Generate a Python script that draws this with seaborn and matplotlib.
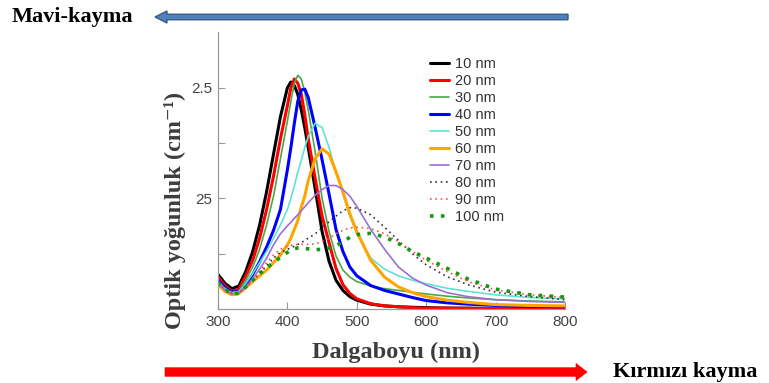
import matplotlib
matplotlib.use("Agg")
import matplotlib.pyplot as plt
import seaborn as sns
from matplotlib.patches import FancyArrow

# Wavelength grid (nm) and optical density
wavelength = [300, 310, 320, 330, 340, 350, 360, 370, 380, 390, 400, 405, 410, 415,
              420, 425, 430, 440, 450, 460, 470, 480, 490, 500, 520, 540, 560, 580,
              600, 630, 660, 700, 750, 800]

od_10 = [.078, .058, .046, .052, .085, .13, .19, .265, .35, .435, .50, .513, .505, .485,
         .45, .41, .365, .272, .175, .108, .065, .042, .028, .02, .011, .007, .005, .004,
         .003, .002, .002, .001, .001, .001]
od_20 = [.072, .052, .040, .045, .075, .11, .16, .225, .30, .385, .46, .50, .52, .51,
         .485, .44, .385, .295, .21, .15, .092, .055, .035, .023, .012, .007, .005, .003,
         .002, .002, .001, .001, .001, .001]
od_30 = [.065, .048, .038, .042, .065, .095, .135, .19, .255, .34, .425, .47, .51, .528,
         .52, .49, .45, .355, .25, .175, .12, .088, .072, .062, .052, .046, .042, .038,
         .034, .029, .025, .021, .018, .016]
od_40 = [.065, .048, .038, .040, .055, .078, .107, .14, .178, .225, .315, .365, .42, .47,
         .495, .497, .478, .41, .337, .26, .18, .13, .095, .075, .053, .042, .034, .026,
         .019, .014, .011, .008, .006, .005]
od_50 = [.062, .046, .037, .040, .058, .08, .105, .13, .16, .19, .225, .25, .278, .31,
         .335, .365, .39, .42, .41, .365, .31, .26, .21, .17, .115, .09, .075, .065,
         .057, .047, .04, .032, .026, .023]
od_60 = [.055, .040, .032, .035, .048, .062, .075, .088, .105, .122, .145, .16, .18, .20,
         .23, .255, .29, .34, .362, .35, .31, .265, .215, .175, .11, .072, .05, .037,
         .028, .02, .015, .01, .008, .007]
od_70 = [.058, .043, .034, .036, .05, .068, .09, .115, .145, .17, .188, .196, .205, .213,
         .222, .231, .24, .257, .27, .279, .279, .27, .255, .232, .18, .135, .095, .07,
         .054, .037, .028, .021, .017, .015]
od_80 = [.06, .045, .035, .038, .05, .065, .08, .098, .115, .128, .135, .138, .142, .146,
         .15, .155, .16, .17, .183, .197, .21, .222, .229, .228, .213, .185, .155, .125,
         .10, .073, .055, .038, .028, .021]
od_90 = [.06, .045, .035, .038, .05, .065, .085, .105, .122, .135, .142, .144, .145, .146,
         .146, .146, .146, .147, .152, .16, .17, .178, .183, .185, .182, .17, .152, .13,
         .11, .085, .062, .043, .032, .026]
od_100 = [.06, .045, .033, .036, .05, .065, .08, .093, .105, .117, .128, .133, .136, .138,
          .138, .137, .136, .134, .135, .138, .143, .152, .162, .168, .171, .163, .148, .13,
          .115, .092, .068, .045, .032, .027]

labels = ["10 nm", "20 nm", "30 nm", "40 nm", "50 nm", "60 nm", "70 nm", "80 nm", "90 nm", "100 nm"]
series = [od_10, od_20, od_30, od_40, od_50, od_60, od_70, od_80, od_90, od_100]

colors = ["black", "#ff0000", "#4aa84a", "#0000ff", "#5fe3d3", "#ffa500", "#9b6fd6",
          "#333333", "#ff5050", "#119a11"]
widths = [2.2, 2.2, 1.2, 2.2, 1.2, 2.2, 1.2, 1.2, 1.2, 2.6]
styles = ["-", "-", "-", "-", "-", "-", "-", (0, (1, 2.2)), (0, (1, 2.2)), (0, (1, 2))]

sns.set_style("white")
plt.rcParams["font.family"] = ["Liberation Sans", "DejaVu Sans"]

fig = plt.figure(figsize=(7.69, 3.83), dpi=100)
ax = fig.add_axes([0.2835, 0.1932, 0.4512, 0.7232])

for y, lab, c, lw, ls in zip(series, labels, colors, widths, styles):
    sns.lineplot(x=wavelength, y=y, ax=ax, color=c, linewidth=lw,
                 linestyle=ls, label=lab)

ax.set_xlim(300, 800)
ax.set_ylim(0, 0.626)
ax.set_xticks([300, 400, 500, 600, 700, 800])
ax.set_yticks([0.125, 0.25, 0.375, 0.5])
ax.set_yticklabels(["", "25", "", "2.5"])
ax.tick_params(direction="in", length=5, width=0.8, color="#999999",
               labelsize=11, labelcolor="#444444", pad=4,
               left=True, bottom=True)
sns.despine(ax=ax)
for s in ["left", "bottom"]:
    ax.spines[s].set_color("#999999")
    ax.spines[s].set_linewidth(0.9)
ax.set_xlabel("")
ax.set_ylabel("")

leg = ax.legend(loc="upper left", bbox_to_anchor=(0.559, 0.850),
                bbox_transform=fig.transFigure, frameon=False, fontsize=10.5,
                handlelength=1.3, handletextpad=0.45, labelspacing=0.2,
                borderpad=0, borderaxespad=0)
for t in leg.get_texts():
    t.set_color("#333333")

serif = ["Liberation Serif", "DejaVu Serif"]
fig.text(396 / 769, 1 - 358 / 383, "Dalgaboyu (nm)", ha="center", va="baseline",
         fontsize=17.5, fontweight="bold", color="#3d3d3d", family=serif)
fig.text(175 / 769, 1 - 210 / 383, "Optik yoğunluk (cm⁻¹)", ha="center", va="center",
         rotation=90, fontsize=17.5, fontweight="bold", color="#3d3d3d", family=serif)
fig.text(12 / 769, 1 - 22 / 383, "Mavi-kayma", ha="left", va="baseline",
         fontsize=16, fontweight="bold", color="black", family=serif)
fig.text(613 / 769, 1 - 377 / 383, "Kırmızı kayma", ha="left", va="baseline",
         fontsize=16, fontweight="bold", color="black", family=serif)

# blue-shift arrow (points left), red-shift arrow (points right)
blue_arrow = FancyArrow(5.68, 3.66, -4.13, 0, width=0.055, head_width=0.12,
                        head_length=0.12, length_includes_head=True,
                        fc="#4F81BD", ec="#385D8A", lw=1,
                        transform=fig.dpi_scale_trans)
red_arrow = FancyArrow(1.65, 0.11, 4.22, 0, width=0.085, head_width=0.17,
                       head_length=0.11, length_includes_head=True,
                       fc="#ff0000", ec="#ff0000", lw=0.5,
                       transform=fig.dpi_scale_trans)
fig.add_artist(blue_arrow)
fig.add_artist(red_arrow)

fig.savefig("out.png", dpi=100)
